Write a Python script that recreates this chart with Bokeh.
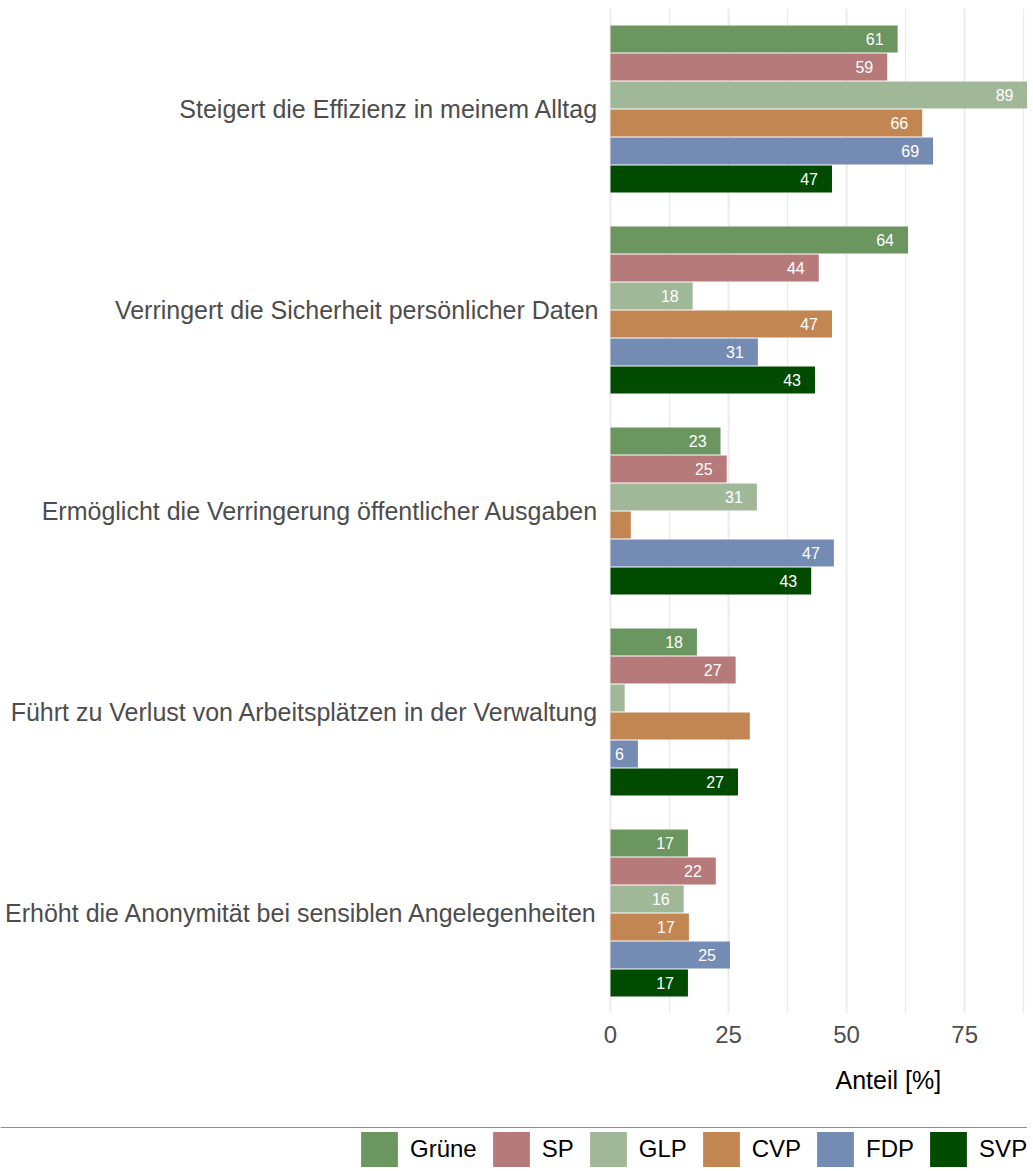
from bokeh.plotting import figure
from bokeh.layouts import column
from bokeh.models import (FactorRange, Range1d, FixedTicker, Legend,
                          LegendItem, Title, ColumnDataSource)
from bokeh.transform import dodge
from bokeh.core.properties import value
from bokeh.embed import file_html
from bokeh.resources import INLINE

categories = [
    "Steigert die Effizienz in meinem Alltag",
    "Verringert die Sicherheit persönlicher Daten",
    "Ermöglicht die Verringerung öffentlicher Ausgaben",
    "Führt zu Verlust von Arbeitsplätzen in der Verwaltung",
    "Erhöht die Anonymität bei sensiblen Angelegenheiten",
]
parties = ["Grüne", "SP", "GLP", "CVP", "FDP", "SVP"]
colors = ["#6B9660", "#B67A7B", "#A0B897", "#C28653", "#748BB4", "#004B00"]

gruene = [60.8, 63.0, 23.3, 18.3, 16.4]
sp = [58.6, 44.1, 24.6, 26.5, 22.3]
glp = [88.3, 17.4, 31.0, 3.0, 15.5]
cvp = [66.0, 46.9, 4.3, 29.5, 16.6]
fdp = [68.3, 31.2, 47.3, 5.8, 25.3]
svp = [46.9, 43.3, 42.5, 27.0, 16.4]

gruene_lbl = ["61", "64", "23", "18", "17"]
sp_lbl = ["59", "44", "25", "27", "22"]
glp_lbl = ["89", "18", "31", "", "16"]
cvp_lbl = ["66", "47", "", "", "17"]
fdp_lbl = ["69", "31", "47", "6", "25"]
svp_lbl = ["47", "43", "43", "27", "17"]

x_ticks = [0, 25, 50, 75]
x_minor_ticks = [12.5, 37.5, 62.5, 87.5]
x_max = 88.3

series = [gruene, sp, glp, cvp, fdp, svp]
labels = [gruene_lbl, sp_lbl, glp_lbl, cvp_lbl, fdp_lbl, svp_lbl]

FONT = "Liberation Sans"

# layout geometry (pixels): data area starts at 610 and is 417 wide
LABEL_AREA = 610
DATA_W = 417
px_per_unit = DATA_W / x_max
x_start = -LABEL_AREA / px_per_unit

p = figure(
    frame_width=LABEL_AREA + DATA_W, frame_height=1005,
    y_range=FactorRange(*list(reversed(categories)), range_padding=0),
    x_range=Range1d(x_start, x_max),
    output_backend="svg", toolbar_location=None, y_axis_location=None,
    min_border_left=0, min_border_right=0, min_border_top=8, min_border_bottom=114,
)
p.outline_line_color = None

pitch = 28 / 201
bar_h = 27 / 201

for i, (party, vals, lbls, col) in enumerate(zip(parties, series, labels, colors)):
    off = (2.5 - i) * pitch
    src = ColumnDataSource(dict(cat=categories, v=vals, lbl=lbls))
    p.hbar(y=dodge("cat", off, range=p.y_range), right="v", left=0, height=bar_h,
           source=src, fill_color=col, line_color=None)
    p.text(x="v", y=dodge("cat", off, range=p.y_range), text="lbl", source=src,
           x_offset=-14, text_align="right", text_baseline="middle",
           text_color="white", text_font_size="16px", text_font=value(FONT))

# category labels (left of the bars)
cat_src = ColumnDataSource(dict(cat=categories, x0=[0] * len(categories)))
p.text(x="x0", y="cat", text="cat", source=cat_src, x_offset=-12,
       text_align="right", text_baseline="middle", text_color="#4d4d4d",
       text_font_size="25px", text_font=value(FONT))

# x axis
p.xaxis.ticker = FixedTicker(ticks=x_ticks, minor_ticks=x_minor_ticks)
p.xaxis.axis_line_color = None
p.xaxis.major_tick_line_color = None
p.xaxis.minor_tick_line_color = None
p.xaxis.major_label_standoff = 6
p.xaxis.major_label_text_font_size = "24px"
p.xaxis.major_label_text_color = "#4d4d4d"
p.xaxis.major_label_text_font = FONT

p.ygrid.grid_line_color = None
p.xgrid.grid_line_color = "#EBEBEB"
p.xgrid.grid_line_width = 2
p.xgrid.minor_grid_line_color = "#EBEBEB"
p.xgrid.minor_grid_line_width = 1.3

xt = Title(text="Anteil [%]", align="left", offset=LABEL_AREA + 225, text_font_size="25px",
           text_font_style="normal", text_color="black", text_font=FONT, standoff=36)
p.add_layout(xt, "below")

# legend strip (placeholder bars sit outside the visible range; only legend swatches show)
lg = figure(width=LABEL_AREA + DATA_W, height=44, x_range=Range1d(0, 1), y_range=Range1d(0, 1),
            output_backend="svg", toolbar_location=None, min_border=0,
            x_axis_location=None, y_axis_location=None)
lg.outline_line_color = None
lg.xgrid.visible = False
lg.ygrid.visible = False
items = []
for party, col in zip(parties, colors):
    r = lg.hbar(y=[5], right=[1], left=0, height=0.5, fill_color=col, line_color=None)
    items.append(LegendItem(label=party, renderers=[r]))
legend = Legend(items=items, orientation="horizontal", location=(356, 0),
                glyph_width=46, glyph_height=44, label_standoff=8, spacing=11,
                label_text_font_size="24px", label_text_font=FONT, label_text_color="black",
                border_line_color=None, background_fill_alpha=0, padding=0, margin=0)
lg.add_layout(legend, "center")

layout = column(p, lg, spacing=0)
open("out.html", "w").write(file_html(layout, INLINE))
